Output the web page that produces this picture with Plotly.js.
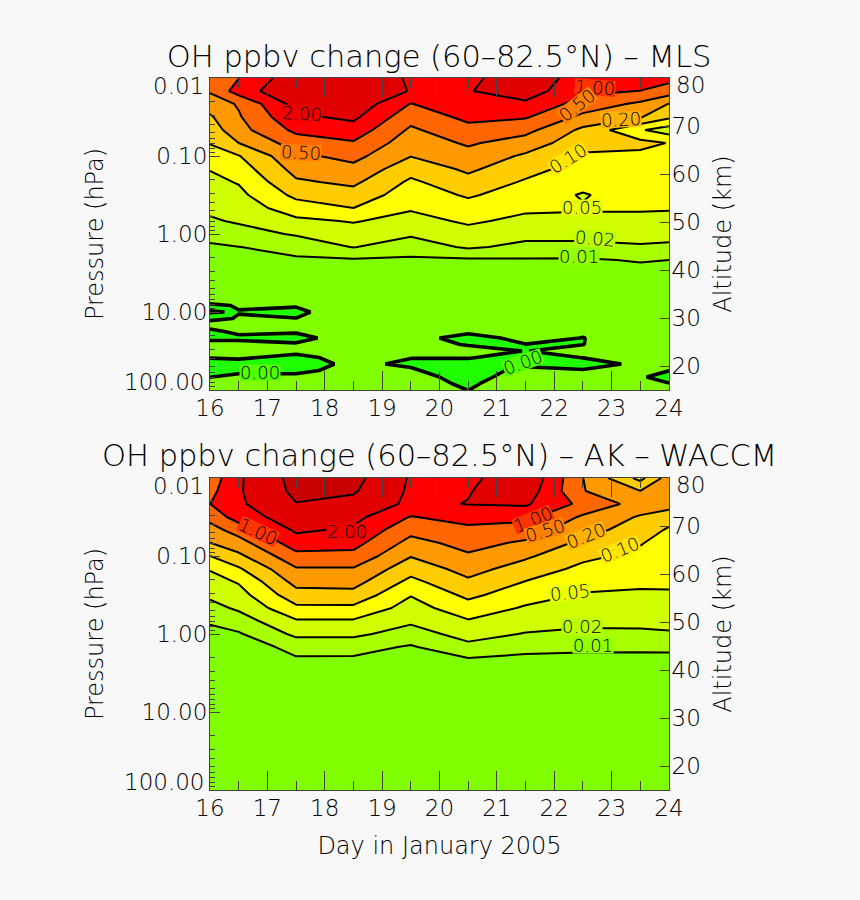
<!DOCTYPE html>
<html><head><meta charset="utf-8">
<script src="https://cdn.plot.ly/plotly-3.0.1.min.js"></script>
<style>html,body{margin:0;padding:0;background:#f8f8f8}</style></head>
<body><div id="chart" style="width:860px;height:900px"></div>
<script>
const days = [16,16.5,17.5,18.5,19.5,20.5,21.5,22.5,23.5,24];
const levels = [0,0.01,0.02,0.05,0.1,0.2,0.5,1,2,5,10];
const fillColors = ['#20ff00','#80ff00','#a8ff00','#d0ff00','#ffff00','#ffcc00','#ff9900','#ff6600','#ff0000','#e00000','#c80000'];
const upperPressure = [0.01,0.0147,0.0215,0.0316,0.0464,0.0681,0.1,0.147,0.215,0.316,0.464,0.681,1,1.47,2.15,3.16,4.64];
const mlsLowerPressure = [6.81,8.25,10,12.1,14.7,17.8,21.5,26.1,31.6,38.3,46.4,56.2,68.1,82.5,100];
const akLowerPressure = [6.81,10,14.7,21.5,31.6,46.4,68.1,100];

const mls16 = [.8,.55,.341,.1875,.147,.106,.078,.052,.0425,.0344,.0263,.01875,.0133,.0085,.007,.0055,.004,.003,-.001,.0002,-.0015,.003,-.002,-.002,.003,.003,.0003,-.003,-.003,-.0002,.003,.003];
const mls16h5 = [.99,1.46,.55,.47,.395,.2,.0975,.075,.0535,.0425,.0335,.0236,.0161,.0098,.0075,.0055,.004,.004,.0004,-.0002,.0004,.003,.002,-.002,.003,.003,.001,-.003,-.003,.003,.004,.004];
const mls17h5 = [4.1,4.7,3.2,1.82,1.23,.735,.437,.302,.186,.124,.0765,.0437,.023,.0139,.0085,.007,.005,.003,.001,-.003,.0002,.003,.001,-.003,.001,.002,-.002,-.003,-.002,.002,.004,.004];
const mls18h5 = [4.1,4.7,4.1,2.6,1.58,.95,.65,.416,.26,.162,.1,.0535,.0362,.0212,.009,.007,.005,.005,.007,.009,.007,.005,.005,.005,.005,.004,.003,.0015,.003,.004,.004,.004];
const mls19h5 = [1.88,1.94,.98,.68,.452,.332,.209,.137,.0915,.0735,.0555,.0395,.0245,.0144,.0085,.007,.005,.005,.005,.005,.005,.005,.005,.004,.003,.003,.0002,-.0012,.001,.004,.0049,.005];
const mls20h5 = [1.85,1.95,1.75,1.25,.845,.565,.392,.254,.167,.112,.0815,.0575,.0395,.0245,.0087,.007,.005,.005,.005,.005,.005,.004,.002,-.004,-.0005,.003,.0005,-.003,-.005,-.004,-.002,-.0001];
const mls21h5 = [3.2,3.5,1.82,1.1,.655,.359,.185,.135,.0945,.0765,.0585,.0428,.0293,.0173,.009,.007,.005,.005,.005,.005,.005,.005,.005,.0031,-.0002,-.0002,-.003,-.002,.00275,.0052,.0075,.006];
const mls22h5 = [1.72,1.2,.8,.425,.178,.14,.0925,.08,.0675,.0476,.054,.044,.0305,.017,.009,.007,.005,.005,.005,.005,.005,.004,.002,-.0002,-.0001,.003,.0002,-.003,.0005,.003,.004,.004];
const mls23h5 = [1.6,.99,.44,.224,.055,.13,.0875,.08,.0725,.075,.055,.0425,.0299,.019,.0107,.007,.005,.005,.005,.005,.005,.005,.005,.005,.004,.004,.003,.0015,.002,.001,.003,.004];
const mls24 = [1.3,.775,.197,.12,.035,.098,.085,.075,.07,.0625,.054,.041,.029,.0183,.01,.007,.005,.005,.005,.005,.005,.005,.005,.005,.004,.004,.003,.003,.0002,-.0035,.0002,.003];

const ak16 = [.7,.85,.995,.65,.39,.198,.1,.0535,.0383,.0257,.0167,.0108,.008,.0065,.005,.004,.004,.003,.003,.003,.003,.003,.003,.003,.003];
const ak16h5 = [1.87,1.9,1.85,1.5,.7,.383,.178,.093,.054,.038,.0248,.0152,.009,.003,.006,.005,.004,.003,.003,.003,.003,.003,.003,.003,.003];
const ak17h5 = [6.7,6.1,4.91,3.68,2.48,1.52,.855,.47,.293,.162,.0895,.0467,.0263,.0139,.0085,.006,.005,.003,.003,.003,.003,.003,.003,.003,.003];
const ak18h5 = [6.5,5.5,4.19,2.9,1.84,1.34,.86,.473,.305,.167,.0895,.0467,.0263,.0134,.0085,.006,.005,.003,.003,.003,.003,.003,.003,.003,.003];
const ak19h5 = [1.9,1.85,1.8,.975,.65,.401,.215,.139,.0865,.0525,.038,.0251,.0156,.009,.0075,.006,.005,.003,.003,.003,.003,.003,.003,.003,.003];
const ak20h5 = [1.7,1.95,2.09,1.4,.88,.665,.464,.308,.182,.123,.079,.0476,.0314,.0173,.0087,.006,.005,.003,.003,.003,.003,.003,.003,.003,.003];
const ak21h5 = [4.7,3.8,2.39,1.29,.77,.452,.248,.155,.098,.071,.0467,.0329,.0194,.0118,.0085,.006,.005,.003,.003,.003,.003,.003,.003,.003,.003];
const ak22h5 = [.505,.525,.87,.455,.296,.176,.123,.088,.0665,.0476,.0374,.0272,.0179,.0111,.0085,.006,.005,.003,.003,.003,.003,.003,.003,.003,.003];
const ak23h5 = [.085,.206,.38,.19,.16,.107,.0875,.0725,.058,.0458,.0365,.0269,.0183,.011,.0085,.006,.005,.003,.003,.003,.003,.003,.003,.003,.003];
const ak24 = [.341,.38,.32,.15,.0925,.0775,.069,.062,.055,.0479,.038,.0284,.019,.0115,.008,.006,.005,.003,.003,.003,.003,.003,.003,.003,.003];

const pressureTicks = [100,10,1,0.1,0.01];
const pressureTickText = ['','10.00','1.00','0.10',''];
const altitudeTicks = [20,30,40,50,60,70,80];
const altitudeTickText = ['20','30','40','50','60','70',''];

const mlsLabelText = ['2.00','0.50','1.00','0.50','0.20','0.10','0.05','0.02','0.01','0.00','0.00'];
const mlsLabelDay = [17.60,17.59,22.71,22.39,23.17,22.24,22.49,22.71,22.43,16.87,21.45];
const mlsLabelLogP = [-1.55,-1.05,-1.88,-1.65,-1.47,-0.97,-0.337,0.064,0.282,1.77,1.65];
const mlsLabelAngle = [3,3,4,-38,-3,-32,0,5,0,0,-20];
const mlsLabelBg = ['#f00000','#ff8000','#ff3300','#ff8000','#ffb300','#ffe600','#e8ff00','#bcff00','#94ff00','#50ff00','#50ff00'];
const akLabelText = ['1.00','2.00','1.00','0.50','0.20','0.10','0.05','0.02','0.01'];
const akLabelDay = [16.84,18.38,21.63,21.84,22.56,23.15,22.27,22.48,22.67];
const akLabelLogP = [-1.31,-1.31,-1.47,-1.33,-1.26,-1.08,-0.535,-0.09,0.15];
const akLabelAngle = [25,0,-22,-17,-22,-22,-6,0,0];
const akLabelBg = ['#ff3300','#f00000','#ff3300','#ff8000','#ffb300','#ffe600','#e8ff00','#bcff00','#94ff00'];

function levelIndex(v){
  if(v<0) return v/levels[1];
  for(let i=0;i<levels.length-1;i++){
    if(v<levels[i+1]) return i+(v-levels[i])/(levels[i+1]-levels[i]);
  }
  return levels.length-1;
}
function grid(cols){
  return cols[0].map((_,r)=>cols.map(c=>levelIndex(c[r])));
}
const mlsCols=[mls16,mls16h5,mls17h5,mls18h5,mls19h5,mls20h5,mls21h5,mls22h5,mls23h5,mls24];
const akCols=[ak16,ak16h5,ak17h5,ak18h5,ak19h5,ak20h5,ak21h5,ak22h5,ak23h5,ak24];
const n=fillColors.length;
const scale=[];
fillColors.forEach((c,j)=>{
  scale.push([j===0?0:(j+0.25)/n,c]);
  scale.push([j===n-1?1:(j+1.25)/n,c]);
});
const black='#000';
function fillTrace(cols,press,xa,ya){
  return {type:'contour',x:days,y:press,z:grid(cols),xaxis:xa,yaxis:ya,
    colorscale:scale,showscale:false,hoverinfo:'skip',
    contours:{coloring:'fill',start:-1,end:9,size:1,showlines:true},
    line:{color:black,width:2,smoothing:0}};
}
function zeroTrace(cols,press,xa,ya){
  return {type:'contour',x:days,y:press,z:grid(cols),xaxis:xa,yaxis:ya,
    showscale:false,hoverinfo:'skip',
    contours:{coloring:'none',start:0,end:0,size:1},
    line:{color:black,width:3.6,smoothing:0}};
}
const mlsP=upperPressure.concat(mlsLowerPressure), akP=upperPressure.concat(akLowerPressure);
const helper=(xa,ya)=>({type:'scatter',mode:'markers',x:[16,24],y:[20,80],xaxis:xa,yaxis:ya,marker:{opacity:0},hoverinfo:'skip',showlegend:false});
const data=[
  fillTrace(mlsCols,mlsP,'x2','y2'),zeroTrace(mlsCols,mlsP,'x2','y2'),
  fillTrace(akCols,akP,'x','y'),zeroTrace(akCols,akP,'x','y'),
  helper('x2','y4'),helper('x','y3')
];
const F='DejaVu Sans Light, DejaVu Sans';
const axCol='#444', txt='#000';
const W=860,H=900;
const xDom=[210/W,669/W];
const topDom=[(H-390)/H,(H-78)/H], botDom=[(H-790)/H,(H-478)/H];
const tickFontSize=23, titleFontSize=24, headFontSize=30.5;
function xAxis(anchor,title){
  return {domain:xDom,range:[16,24],anchor:anchor,tick0:16,dtick:1,ticks:'inside',ticklen:19,tickwidth:1,tickcolor:axCol,ticklabelstandoff:-3,
    minor:{ticks:'inside',tick0:16,dtick:0.5,ticklen:9.5,tickwidth:1,tickcolor:axCol},
    showline:true,linecolor:axCol,linewidth:1,mirror:'ticks',showgrid:false,zeroline:false,
    tickfont:{family:F,size:tickFontSize,color:txt},
    title:title?{text:title,font:{family:F,size:titleFontSize,color:txt},standoff:17}:undefined};
}
function yAxis(dom,anchor){
  return {domain:dom,type:'log',range:[2,-2],anchor:anchor,tickmode:'array',tickvals:pressureTicks,ticktext:pressureTickText,
    ticks:'inside',ticklen:10,tickwidth:1,tickcolor:axCol,ticklabelstandoff:-3,
    minor:{ticks:'inside',ticklen:5,tickwidth:1,tickcolor:axCol,dtick:'D1'},
    showline:true,linecolor:axCol,linewidth:1,showgrid:false,zeroline:false,
    tickfont:{family:F,size:tickFontSize,color:txt},
    title:{text:'Pressure (hPa)',font:{family:F,size:titleFontSize,color:txt},standoff:31}};
}
function altAxis(dom,anchor,over){
  return {domain:dom,range:[15,80],anchor:anchor,overlaying:over,side:'right',tickmode:'array',tickvals:altitudeTicks,ticktext:altitudeTickText,
    ticks:'inside',ticklen:9.5,tickwidth:1,tickcolor:axCol,ticklabelstandoff:-3,showline:true,linecolor:axCol,linewidth:1,showgrid:false,zeroline:false,
    tickfont:{family:F,size:tickFontSize,color:txt},
    title:{text:'Altitude (km)',font:{family:F,size:titleFontSize,color:txt},standoff:14}};
}
const ann=[];
function panelLabels(text,day,logp,angle,bg,xr,yr){
  text.forEach((t,i)=>ann.push({text:t,x:day[i],y:logp[i],xref:xr,yref:yr,showarrow:false,textangle:angle[i],
    font:{family:F,size:18,color:txt},bgcolor:bg[i],borderpad:0,height:15}));
}
panelLabels(mlsLabelText,mlsLabelDay,mlsLabelLogP,mlsLabelAngle,mlsLabelBg,'x2','y2');
panelLabels(akLabelText,akLabelDay,akLabelLogP,akLabelAngle,akLabelBg,'x','y');
function endLabel(t,xp,anchor,yv,yr,shift){
  ann.push({text:t,xref:'paper',x:xp/W,xanchor:anchor,yref:yr,y:yv,yshift:shift,showarrow:false,height:18,font:{family:F,size:tickFontSize,color:txt}});
}
[['y2','y4'],['y','y3']].forEach(([pr,al])=>{
  endLabel('0.01',206,'right',-2,pr,-8);
  endLabel('100.00',206,'right',2,pr,8);
  endLabel('80',674,'left',80,al,-7);
});
ann.push({text:'OH ppbv change (60–82.5°N) – AK – WACCM',xref:'paper',yref:'paper',x:439/W,y:(H-456)/H,showarrow:false,font:{family:F,size:headFontSize,color:txt}});
const layout={width:W,height:H,margin:{l:0,r:0,t:0,b:0},paper_bgcolor:'#f8f8f8',plot_bgcolor:'#80ff00',showlegend:false,
  title:{text:'OH ppbv change (60–82.5°N) – MLS',font:{family:F,size:headFontSize,color:txt},x:439/W,xanchor:'center',y:(H-56)/H,yanchor:'middle'},
  xaxis:xAxis('y','Day in January 2005'),xaxis2:xAxis('y2'),
  yaxis:yAxis(botDom,'x'),yaxis2:yAxis(topDom,'x2'),
  yaxis3:altAxis(botDom,'x','y'),yaxis4:altAxis(topDom,'x2','y2'),
  annotations:ann};
Plotly.newPlot('chart',data,layout,{displayModeBar:false,staticPlot:true});
</script></body></html>
